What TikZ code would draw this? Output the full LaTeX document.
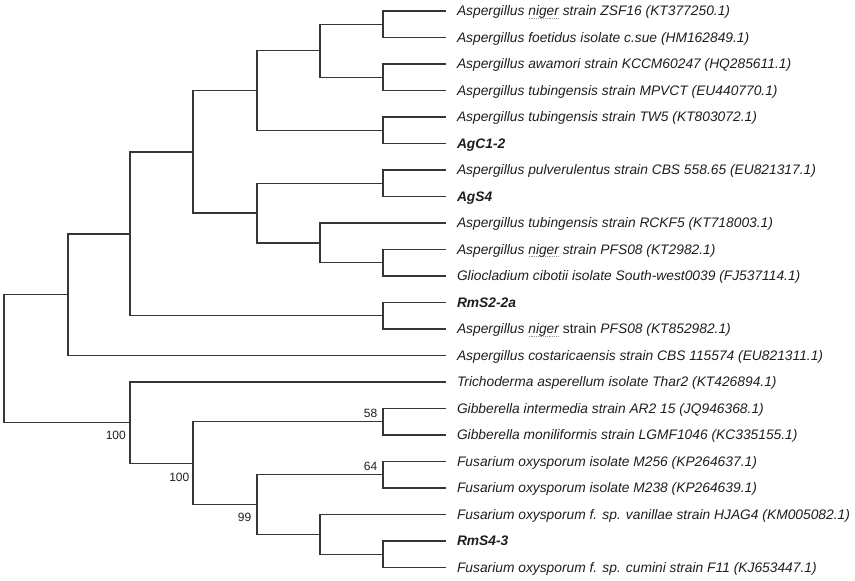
\documentclass[tikz,border=0pt]{standalone}
\usepackage{fontspec}
\setmainfont{Liberation Sans}
\usetikzlibrary{calc}
\definecolor{linec}{HTML}{363636}
\definecolor{txt}{HTML}{1E1E1E}
\newcommand\squig[1]{\setbox0\hbox{#1}\rlap{\color{gray!80}\raisebox{-2.6pt}{\hbox to \wd0{\leaders\hbox to 1.8pt{\hss\rule{0.9pt}{0.8pt}\hss}\hfill}}}\box0\relax}
\begin{document}
\begin{tikzpicture}[x=1pt,y=-1pt,
  br/.style={draw=linec, line width=1.4pt},
  leaf/.style={anchor=west, inner xsep=11pt, inner ysep=0pt, outer sep=0pt,
    font=\fontsize{13.8}{16}\selectfont\itshape, text=txt, text height=9.7pt, text depth=0pt},
  strain/.style={leaf, font=\fontsize{13.8}{16}\selectfont\bfseries\itshape},
  boot/.style={anchor=east, inner sep=0pt, text=txt, font=\fontsize{12}{14}\selectfont, text height=8.6pt, text depth=0pt}]
\useasboundingbox (0,0) rectangle (855,581);
% leaves
\node[leaf] (t1) at (446,11) {Aspergillus \squig{niger} strain ZSF16 (KT377250.1)};
\node[leaf] (t2) at (446,37.5) {Aspergillus foetidus isolate c.sue (HM162849.1)};
\node[leaf] (t3) at (446,64) {Aspergillus awamori strain KCCM60247 (HQ285611.1)};
\node[leaf] (t4) at (446,90.5) {Aspergillus tubingensis strain MPVCT (EU440770.1)};
\node[leaf] (t5) at (446,117) {Aspergillus tubingensis strain TW5 (KT803072.1)};
\node[strain] (t6) at (446,143.5) {AgC1-2};
\node[leaf] (t7) at (446,170) {Aspergillus pulverulentus strain CBS 558.65 (EU821317.1)};
\node[strain] (t8) at (446,196.5) {AgS4};
\node[leaf] (t9) at (446,223) {Aspergillus tubingensis strain RCKF5 (KT718003.1)};
\node[leaf] (t10) at (446,249.5) {Aspergillus \squig{niger} strain PFS08 (KT2982.1)};
\node[leaf] (t11) at (446,276) {Gliocladium cibotii isolate South-west0039 (FJ537114.1)};
\node[strain] (t12) at (446,302.5) {RmS2-2a};
\node[leaf] (t13) at (446,329) {Aspergillus \squig{niger} \upshape strain \itshape PFS08 (KT852982.1)};
\node[leaf] (t14) at (446,355.5) {Aspergillus costaricaensis strain CBS 115574 (EU821311.1)};
\node[leaf] (t15) at (446,382) {Trichoderma asperellum isolate Thar2 (KT426894.1)};
\node[leaf] (t16) at (446,408.5) {Gibberella intermedia strain AR2 15 (JQ946368.1)};
\node[leaf] (t17) at (446,435) {Gibberella moniliformis strain LGMF1046 (KC335155.1)};
\node[leaf] (t18) at (446,461.5) {Fusarium oxysporum isolate M256 (KP264637.1)};
\node[leaf] (t19) at (446,488) {Fusarium oxysporum isolate M238 (KP264639.1)};
\node[leaf] (t20) at (446,514.5) {Fusarium oxysporum f. sp. vanillae strain HJAG4 (KM005082.1)};
\node[strain] (t21) at (446,541) {RmS4-3};
\node[leaf] (t22) at (446,567.5) {Fusarium oxysporum f. sp. cumini strain F11 (KJ653447.1)};
% internal nodes
\coordinate (a12) at (383,24.25);
\coordinate (a34) at (383,77.25);
\coordinate (a14) at (320,50.75);
\coordinate (a56) at (383,130.25);
\coordinate (a16) at (257,90.5);
\coordinate (a78) at (383,183.25);
\coordinate (a1011) at (383,262.75);
\coordinate (a911) at (320,242.9);
\coordinate (a711) at (257,213.1);
\coordinate (a111) at (193,151.8);
\coordinate (a1213) at (383,315.75);
\coordinate (a113) at (130,233.8);
\coordinate (a114) at (68,294.6);
\coordinate (root) at (4,358.6);
\coordinate (c1617) at (383,421.75);
\coordinate (c1819) at (383,474.75);
\coordinate (c2122) at (383,554.25);
\coordinate (c2022) at (320,534.4);
\coordinate (c1822) at (257,504.6);
\coordinate (c1622) at (193,463.2);
\coordinate (c1522) at (130,422.6);
% branches
\draw[br] (a12) |- (t1.west) (a12) |- (t2.west);
\draw[br] (a34) |- (t3.west) (a34) |- (t4.west);
\draw[br] (a14) |- (a12) (a14) |- (a34);
\draw[br] (a56) |- (t5.west) (a56) |- (t6.west);
\draw[br] (a16) |- (a14) (a16) |- (a56);
\draw[br] (a78) |- (t7.west) (a78) |- (t8.west);
\draw[br] (a1011) |- (t10.west) (a1011) |- (t11.west);
\draw[br] (a911) |- (t9.west) (a911) |- (a1011);
\draw[br] (a711) |- (a78) (a711) |- (a911);
\draw[br] (a111) |- (a16) (a111) |- (a711);
\draw[br] (a1213) |- (t12.west) (a1213) |- (t13.west);
\draw[br] (a113) |- (a111) (a113) |- (a1213);
\draw[br] (a114) |- (a113) (a114) |- (t14.west);
\draw[br] (root) |- (a114) (root) |- (c1522);
\draw[br] (c1617) |- (t16.west) (c1617) |- (t17.west);
\draw[br] (c1819) |- (t18.west) (c1819) |- (t19.west);
\draw[br] (c2122) |- (t21.west) (c2122) |- (t22.west);
\draw[br] (c2022) |- (t20.west) (c2022) |- (c2122);
\draw[br] (c1822) |- (c1819) (c1822) |- (c2022);
\draw[br] (c1622) |- (c1617) (c1622) |- (c1822);
\draw[br] (c1522) |- (t15.west) (c1522) |- (c1622);
% bootstrap values
\node[boot] (b1) at ($(c1522)+(-4,12.4)$) {100};
\node[boot] (b2) at ($(c1622)+(-3.5,13.8)$) {100};
\node[boot] (b3) at ($(c1617)+(-5.5,-8.8)$) {58};
\node[boot] (b4) at ($(c1819)+(-5.5,-8.8)$) {64};
\node[boot] (b5) at ($(c1822)+(-5.5,12.4)$) {99};
\end{tikzpicture}
\end{document}
